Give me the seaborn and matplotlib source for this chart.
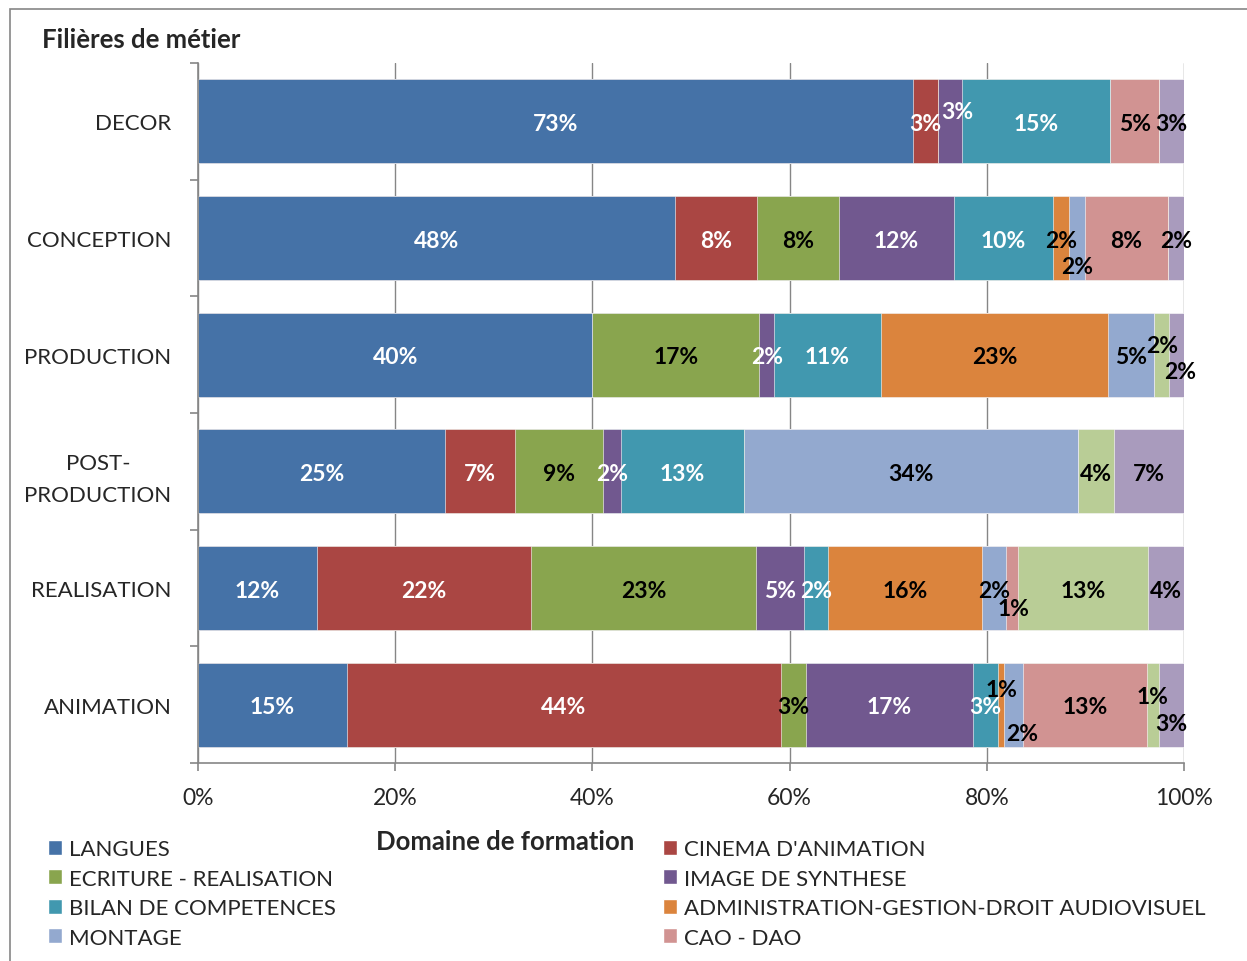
import matplotlib
matplotlib.use('Agg')
import matplotlib.pyplot as plt
from matplotlib.patches import Patch, Rectangle
import numpy as np
import seaborn as sns

# filières de métier (rows) and domaines de formation (series)
metiers = ['DECOR', 'CONCEPTION', 'PRODUCTION', 'POST-\nPRODUCTION', 'REALISATION', 'ANIMATION']
formations = ['LANGUES', "CINEMA D'ANIMATION", 'ECRITURE - REALISATION', 'IMAGE DE SYNTHESE',
              'BILAN DE COMPETENCES', 'ADMINISTRATION-GESTION-DROIT AUDIOVISUEL', 'MONTAGE',
              'CAO - DAO', 'SERIE 9', 'SERIE 10']

# head counts (one value per métier)
langues = [29, 29, 26, 14, 10, 24]
cinema = [1, 5, 0, 4, 18, 70]
ecriture = [0, 5, 11, 5, 19, 4]
image = [1, 7, 1, 1, 4, 27]
bilan = [6, 6, 7, 7, 2, 4]
admin = [0, 1, 15, 0, 13, 1]
montage = [0, 1, 3, 19, 2, 3]
cao = [2, 5, 0, 0, 1, 20]
serie9 = [0, 0, 1, 2, 11, 2]
serie10 = [1, 1, 1, 4, 3, 4]

colors = ['#4572A7', '#AA4643', '#89A54E', '#71588F', '#4198AF',
          '#DB843D', '#93A9CF', '#D19392', '#B9CD96', '#A99BBD']
white_text = {0, 1, 3, 4}

# label nudges (pixels) where Excel moved overlapping labels: (row, serie) -> (dx, dy)
nudges = {(0, 3): (7, 12), (1, 6): (0, -27), (2, 8): (1, 11), (2, 9): (4, -15),
          (4, 7): (2, -18), (5, 5): (0, 17), (5, 6): (9, -27), (5, 8): (0, 10), (5, 9): (0, -17)}

counts = np.array([langues, cinema, ecriture, image, bilan, admin, montage, cao, serie9, serie10],
                  dtype=float).T
pct = 100 * counts / counts.sum(axis=1, keepdims=True)
cum = np.cumsum(pct, axis=1)

sns.set_style('white')
plt.rcParams['font.family'] = ['Lato', 'DejaVu Sans']

W, H = 1247, 962
fig = plt.figure(figsize=(W / 100, H / 100), dpi=100)
ax = fig.add_axes([198 / W, 1 - 764 / H, (1184 - 198) / W, (764 - 64) / H])

for i in reversed(range(len(formations))):
    sns.barplot(x=cum[:, i], y=metiers, orient='h', color=colors[i], saturation=1,
                width=0.72, edgecolor='white', linewidth=0.4, ax=ax)

for r in range(len(metiers)):
    for i in range(len(formations)):
        if counts[r, i] == 0:
            continue
        xc = cum[r, i] - pct[r, i] / 2
        dx, dy = nudges.get((r, i), (0, 0))
        ax.annotate(f'{int(np.floor(pct[r, i] + 0.5 + 1e-9))}%', (xc, r), xytext=(dx, dy - 2),
                    textcoords='offset pixels', ha='center', va='center', fontsize=16.5,
                    fontweight='bold', color='white' if i in white_text else 'black')

grey = '#868686'
ax.set_xlim(0, 100)
ax.set_ylim(5.5, -0.5)
ax.set_xticks(range(0, 101, 20))
ax.set_xticklabels([f'{v}%' for v in range(0, 101, 20)])
ax.set_yticks(np.arange(-0.5, 6, 1), minor=True)
ax.xaxis.grid(True, color=grey, linewidth=1)
ax.set_axisbelow(True)
for s in ['top', 'right']:
    ax.spines[s].set_visible(False)
for s in ['left', 'bottom']:
    ax.spines[s].set_color(grey)
    ax.spines[s].set_linewidth(1.2)
ax.tick_params(axis='x', which='major', length=6, color=grey, width=1.2, pad=11, labelsize=16.5,
               direction='out', bottom=True)
ax.tick_params(axis='y', which='major', length=0, pad=19, labelsize=16)
ax.tick_params(axis='y', which='minor', length=6, color=grey, width=1.2, left=True, direction='out')
for lbl in ax.get_yticklabels():
    lbl.set_multialignment('center')
    lbl.set_linespacing(1.7)
ax.set_xlabel('')
ax.set_ylabel('')

fig.text(42 / W, 1 - 40 / H, 'Filières de métier', fontsize=18.5, fontweight='bold', va='center')
fig.text(505 / W, 1 - 842 / H, 'Domaine de formation', fontsize=18.5, fontweight='bold',
         ha='center', va='center')

legend_kw = dict(frameon=False, fontsize=16, handlelength=0.65, handleheight=0.65,
                 handletextpad=0.28, labelspacing=0.43, borderpad=0, borderaxespad=0,
                 loc='upper left')
for cols, x0 in [([0, 2, 4, 6], 48), ([1, 3, 5, 7], 663)]:
    handles = [Patch(facecolor=colors[i], label=formations[i]) for i in cols]
    fig.legend(handles=handles, bbox_to_anchor=(x0 / W, 1 - 840 / H), **legend_kw)

fig.patches.append(Rectangle((9.5 / W, -0.05), 2, 1.05 - 10 / H, transform=fig.transFigure,
                             fill=False, edgecolor=grey, linewidth=1.2))

fig.savefig('out.png', dpi=100)
